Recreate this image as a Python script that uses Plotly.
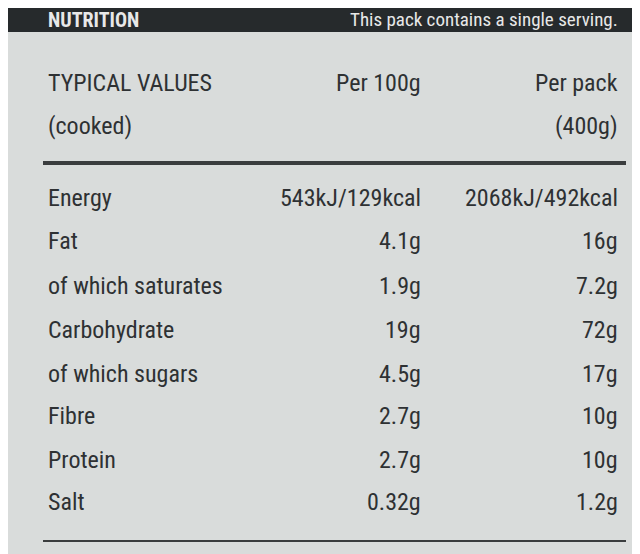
import plotly.graph_objects as go

nutrients = ["Energy", "Fat", "of which saturates", "Carbohydrate", "of which sugars", "Fibre", "Protein", "Salt"]
per_100g = ["543kJ/129kcal", "4.1g", "1.9g", "19g", "4.5g", "2.7g", "2.7g", "0.32g"]
per_pack = ["2068kJ/492kcal", "16g", "7.2g", "72g", "17g", "10g", "10g", "1.2g"]
row_y = [190, 233, 278, 322, 366, 408, 452, 494]

W, H = 640, 554
FONT = "Liberation Sans Narrow, Roboto Condensed, Arial Narrow, Roboto"
COL = "#2e3133"

def py(p):
    return 1 - p / H

fig = go.Figure()
ann = []
def t(x, y, s, anchor="left", size=24, color=COL, bold=False):
    ann.append(dict(x=x / W, y=py(y), xref="paper", yref="paper", text=("<b>%s</b>" % s) if bold else s,
                    showarrow=False, xanchor=anchor, yanchor="middle",
                    font=dict(family=FONT, size=size, color=color)))

t(38, 12, "NUTRITION", size=20, color="#e8e8e8", bold=True)
t(612, 12, "This pack contains a single serving.", anchor="right", size=19, color="#e8e8e8")
t(38, 75, "TYPICAL VALUES")
t(38, 118, "(cooked)")
t(415, 75, "Per 100g", anchor="right")
t(612, 75, "Per pack", anchor="right")
t(612, 118, "(400g)", anchor="right")
for n, a, b, y in zip(nutrients, per_100g, per_pack, row_y):
    t(38, y, n)
    t(415, y, a, anchor="right")
    t(612, y, b, anchor="right")

shapes = [
    dict(type="rect", xref="paper", yref="paper", x0=0, x1=1, y0=py(24), y1=1, fillcolor="#262a2c", line_width=0, layer="below"),
    dict(type="rect", xref="paper", yref="paper", x0=626 / W, x1=1, y0=0, y1=1, fillcolor="#3fb5b5", line_width=0),
    dict(type="line", xref="paper", yref="paper", x0=35 / W, x1=618 / W, y0=py(155), y1=py(155), line=dict(color="#3a3d3e", width=4)),
    dict(type="line", xref="paper", yref="paper", x0=35 / W, x1=618 / W, y0=py(533), y1=py(533), line=dict(color="#3a3d3e", width=2)),
]

fig.update_layout(width=W, height=H, margin=dict(l=0, r=0, t=0, b=0),
                  paper_bgcolor="#d9dcdb", plot_bgcolor="#d9dcdb",
                  xaxis=dict(visible=False), yaxis=dict(visible=False),
                  annotations=ann, shapes=shapes)
fig.write_html("out.html")
